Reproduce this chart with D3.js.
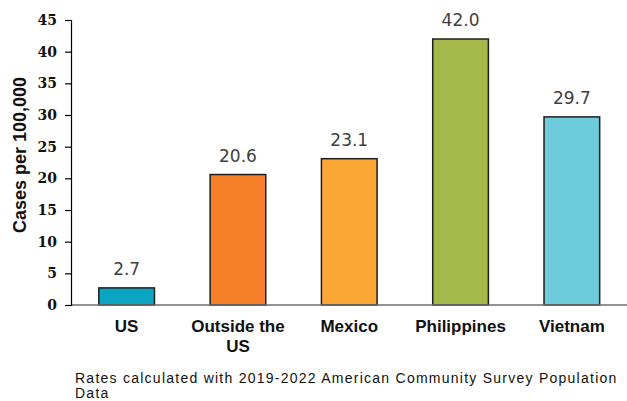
<!DOCTYPE html>
<html>
<head>
<meta charset="utf-8">
<script src="https://cdn.jsdelivr.net/npm/d3@7"></script>
<style>
  body { margin: 0; background: #fff; }
  text { font-family: Arial, "Liberation Sans", sans-serif; }
</style>
</head>
<body>
<div id="chart"></div>
<script>
// chart data
var categories = ["US", "Outside the US", "Mexico", "Philippines", "Vietnam"];
var catLines = [["US"], ["Outside the", "US"], ["Mexico"], ["Philippines"], ["Vietnam"]];
var rates = [2.7, 20.6, 23.1, 42.0, 29.7];
var barColors = ["#0ba6c3", "#f47f28", "#f9a634", "#a5b94a", "#6dcbdc"];
var yTicks = [0, 5, 10, 15, 20, 25, 30, 35, 40, 45];
var yTitle = "Cases per 100,000";
var footnote = ["Rates calculated with 2019-2022 American Community Survey Population", "Data"];

var svgWidth = 627, svgHeight = 401;
var margin = { top: 20, right: 0, bottom: 96, left: 71 };
var height = 305 - margin.top;

var svg = d3.select("#chart")
  .append("svg")
  .attr("width", svgWidth)
  .attr("height", svgHeight);

var chartGroup = svg.append("g")
  .attr("transform", `translate(${margin.left}, ${margin.top})`);

var xBand = d3.scaleBand()
  .domain(categories)
  .range([0, 556.5])
  .paddingInner(0.5)
  .paddingOuter(0.25);

var yLinearScale = d3.scaleLinear()
  .domain([0, 45])
  .range([height, 0]);

// bars
chartGroup.selectAll("rect.bar")
  .data(rates)
  .enter()
  .append("rect")
  .attr("class", "bar")
  .attr("x", (d, i) => xBand(categories[i]))
  .attr("y", d => yLinearScale(d))
  .attr("width", xBand.bandwidth())
  .attr("height", d => height - yLinearScale(d))
  .attr("fill", (d, i) => barColors[i])
  .attr("stroke", "#1e1e1e")
  .attr("stroke-width", 1.5);

// value labels
chartGroup.selectAll("text.val")
  .data(rates)
  .enter()
  .append("text")
  .attr("class", "val")
  .attr("x", (d, i) => xBand(categories[i]) + xBand.bandwidth() / 2)
  .attr("y", d => yLinearScale(d) - 13)
  .attr("text-anchor", "middle")
  .style("font-family", "'DejaVu Sans', sans-serif")
  .style("font-size", "17px")
  .attr("fill", "#404040")
  .text(d => d.toFixed(1));

// x axis line
chartGroup.append("line")
  .attr("x1", 0)
  .attr("x2", 556.5)
  .attr("y1", height)
  .attr("y2", height)
  .attr("stroke", "#6e6e6e")
  .attr("stroke-width", 1.5);

// y axis
var leftAxis = d3.axisLeft(yLinearScale)
  .tickValues(yTicks)
  .tickSize(6)
  .tickPadding(8);

var yAxis = chartGroup.append("g").call(leftAxis);
yAxis.select(".domain").attr("stroke", "#000").attr("stroke-width", 1.2);
yAxis.selectAll(".tick line").attr("stroke", "#000").attr("stroke-width", 1.2);
yAxis.selectAll(".tick text")
  .style("font-family", "'DejaVu Serif', serif")
  .style("font-size", "14px")
  .style("font-weight", "bold")
  .attr("fill", "#111");

// category labels
var xLabels = chartGroup.selectAll("text.cat")
  .data(catLines)
  .enter()
  .append("text")
  .attr("class", "cat")
  .attr("x", (d, i) => xBand(categories[i]) + xBand.bandwidth() / 2)
  .attr("y", height + 27)
  .attr("text-anchor", "middle")
  .style("font-size", "17px")
  .style("font-weight", "bold")
  .attr("fill", "#111");

xLabels.selectAll("tspan")
  .data(d => d)
  .enter()
  .append("tspan")
  .attr("x", function() { return d3.select(this.parentNode).attr("x"); })
  .attr("dy", (d, i) => i === 0 ? 0 : 20)
  .text(d => d);

// y axis title
svg.append("text")
  .attr("transform", "rotate(-90)")
  .attr("x", -155)
  .attr("y", 26)
  .attr("text-anchor", "middle")
  .style("font-size", "18px")
  .style("font-weight", "bold")
  .attr("fill", "#111")
  .text(yTitle);

// footnote
svg.selectAll("text.note")
  .data(footnote)
  .enter()
  .append("text")
  .attr("class", "note")
  .attr("x", 75)
  .attr("y", (d, i) => 383 + i * 15)
  .style("font-size", "14px")
  .style("letter-spacing", "1.25px")
  .attr("fill", "#111")
  .text(d => d);
</script>
</body>
</html>
